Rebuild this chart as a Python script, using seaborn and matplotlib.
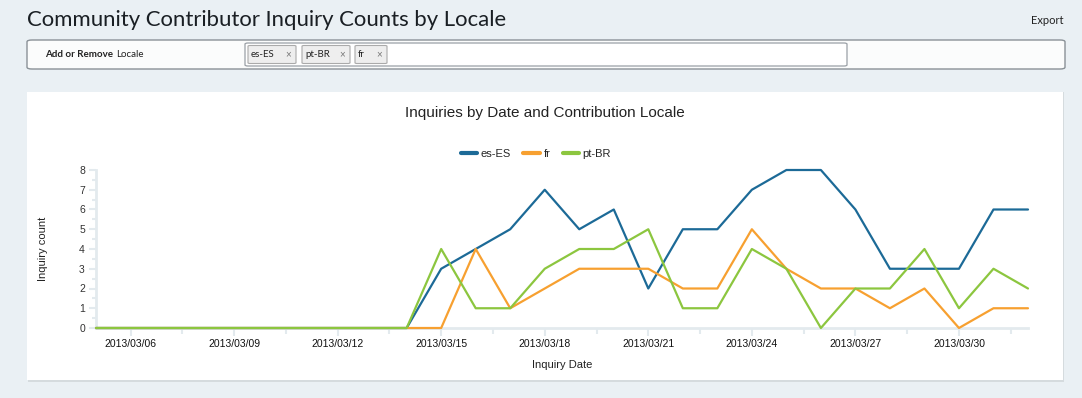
import matplotlib
matplotlib.use("Agg")
import matplotlib.pyplot as plt
import matplotlib.dates as mdates
from matplotlib.colors import to_hex
from matplotlib.patches import FancyBboxPatch, Rectangle
from matplotlib.ticker import FixedLocator, MultipleLocator
import pandas as pd
import seaborn as sns

# ---------------- data ----------------
dates = pd.date_range("2013-03-05", "2013-04-01", freq="D")
es_ES = [0, 0, 0, 0, 0, 0, 0, 0, 0, 0, 3, 4, 5, 7, 5, 6, 2, 5, 5, 7, 8, 8, 6, 3, 3, 3, 6, 6]
fr    = [0, 0, 0, 0, 0, 0, 0, 0, 0, 0, 0, 4, 1, 2, 3, 3, 3, 2, 2, 5, 3, 2, 2, 1, 2, 0, 1, 1]
pt_BR = [0, 0, 0, 0, 0, 0, 0, 0, 0, 0, 4, 1, 1, 3, 4, 4, 5, 1, 1, 4, 3, 0, 2, 2, 4, 1, 3, 2]
locales = ["es-ES", "fr", "pt-BR"]
colors = ["#1c6a97", "#f7a030", "#8cc63f"]
selected_tags = ["es-ES", "pt-BR", "fr"]

df = pd.DataFrame({
    "Inquiry Date": list(dates) * 3,
    "Inquiry count": es_ES + fr + pt_BR,
    "locale": [l for l, s in zip(locales, [es_ES, fr, pt_BR]) for _ in s],
})

# ---------------- figure ----------------
sns.set_theme(style="white")
plt.rcParams["font.family"] = ["Liberation Sans", "DejaVu Sans"]
PAGE_FONT = ["Lato", "DejaVu Sans"]

W, H = 1082, 398
BG = "#eaf0f4"
fig = plt.figure(figsize=(W / 100, H / 100), dpi=100, facecolor=BG)


def fx(x):
    return x / W


def fy(y):
    return 1 - y / H


def box(x0, y0, x1, y1, fc, ec, lw=1.0, r=4, z=0):
    fig.patches.append(FancyBboxPatch((fx(x0), fy(y1)), fx(x1 - x0), (y1 - y0) / H,
                                      boxstyle=f"round,pad=0,rounding_size={r / W}",
                                      transform=fig.transFigure, fc=fc, ec=ec, lw=lw, zorder=z))


# page title
fig.text(fx(27), fy(20), "Community Contributor Inquiry Counts by Locale",
         fontsize=15.9, family=PAGE_FONT, color="#1a1f24", va="center", ha="left")
fig.text(fx(1064), fy(21), "Export", fontsize=8, family=PAGE_FONT,
         color="#222222", va="center", ha="right")

# filter bar
box(27, 40, 1065, 69, "#fbfcfc", "#8a9197", lw=1.0, r=5)
t1 = fig.text(fx(45), fy(54.5), "Add or Remove", fontsize=7, fontweight="bold",
              family=PAGE_FONT, color="#222222", va="center", ha="left")
renderer = fig.canvas.get_renderer()
bb = t1.get_window_extent(renderer)
fig.text(fx(bb.x1 + 3), fy(54.5), "Locale", fontsize=7,
         family=PAGE_FONT, color="#222222", va="center", ha="left")
box(245, 43, 847, 66, "white", "#9aa0a6", lw=0.9, r=3, z=1)
tag_x = [248, 302, 355]
tag_w = [48, 48, 32]
for t, x0, w in zip(selected_tags, tag_x, tag_w):
    box(x0, 45.5, x0 + w, 63.5, "#eeeeee", "#aaaaaa", lw=0.8, r=2, z=2)
    fig.text(fx(x0 + 3), fy(54.5), t, fontsize=7, family=PAGE_FONT,
             color="#222222", va="center", ha="left", zorder=3)
    fig.text(fx(x0 + w - 8), fy(54.5), "×", fontsize=7, color="#777777",
             va="center", ha="center", zorder=3)

# chart panel
fig.patches.append(Rectangle((fx(28), fy(382)), fx(1036), 290 / H, transform=fig.transFigure,
                             fc="#d5dbde", ec="none", zorder=0))
fig.patches.append(Rectangle((fx(27), fy(380)), fx(1036), 288 / H, transform=fig.transFigure,
                             fc="white", ec="none", zorder=0.5))

fig.text(fx(545), fy(113), "Inquiries by Date and Contribution Locale", fontsize=11,
         color="#222222", ha="center", va="center", zorder=3)

# axes
ax = fig.add_axes([fx(96), fy(328), fx(1028 - 96), (328 - 170) / H])
ax.set_zorder(5)
ax.set_facecolor("none")
sns.lineplot(data=df, x="Inquiry Date", y="Inquiry count", hue="locale",
             hue_order=locales, palette=colors, linewidth=1.6, ax=ax, legend=True,
             clip_on=False, zorder=4)
# later series on top (pt-BR over fr over es-ES)
order = {c.lower(): i for i, c in enumerate(colors)}
for ln in ax.lines:
    h = to_hex(ln.get_color()).lower()
    if h in order:
        ln.set_zorder(4 + order[h] * 0.1)

ax.set_xlim(dates[0], dates[-1])
ax.set_ylim(0, 8)
major = [mdates.date2num(d) for d in dates[1::3]]
ax.xaxis.set_major_locator(FixedLocator(major))
ax.xaxis.set_minor_locator(FixedLocator([m + 1.5 for m in major]))
ax.xaxis.set_major_formatter(mdates.DateFormatter("%Y/%m/%d"))
ax.yaxis.set_major_locator(MultipleLocator(1))
ax.yaxis.set_minor_locator(MultipleLocator(0.5))

axis_col = "#e3eaee"
for s in ["top", "right"]:
    ax.spines[s].set_visible(False)
for s in ["left", "bottom"]:
    ax.spines[s].set_color(axis_col)
    ax.spines[s].set_linewidth(2)
ax.tick_params(axis="x", which="major", length=6, width=1.5, color=axis_col,
               labelsize=7.5, labelcolor="#111111", pad=2, direction="out", bottom=True)
ax.tick_params(axis="x", which="minor", length=4, width=1.5, color=axis_col, bottom=True)
ax.tick_params(axis="y", which="major", length=5, width=1.5, color=axis_col,
               labelsize=7.5, labelcolor="#333333", pad=3, left=True)
ax.tick_params(axis="y", which="minor", length=3, width=1.5, color=axis_col, left=True)
for lab in ax.get_xticklabels():
    lab.set_ha("center")
ax.set_xlabel("Inquiry Date", fontsize=8, color="#222222", labelpad=8)
ax.set_ylabel("Inquiry count", fontsize=8, color="#222222", labelpad=22)

leg = ax.legend(title=None, loc="lower center", bbox_to_anchor=(fx(536 - 96) / fx(1028 - 96), 1.04),
                ncol=3, frameon=False, fontsize=8, handlelength=1.45, handletextpad=0.35,
                columnspacing=1.1, borderaxespad=0)
for line in leg.get_lines():
    line.set_linewidth(3)

fig.savefig("out.png", dpi=100, facecolor=BG)
